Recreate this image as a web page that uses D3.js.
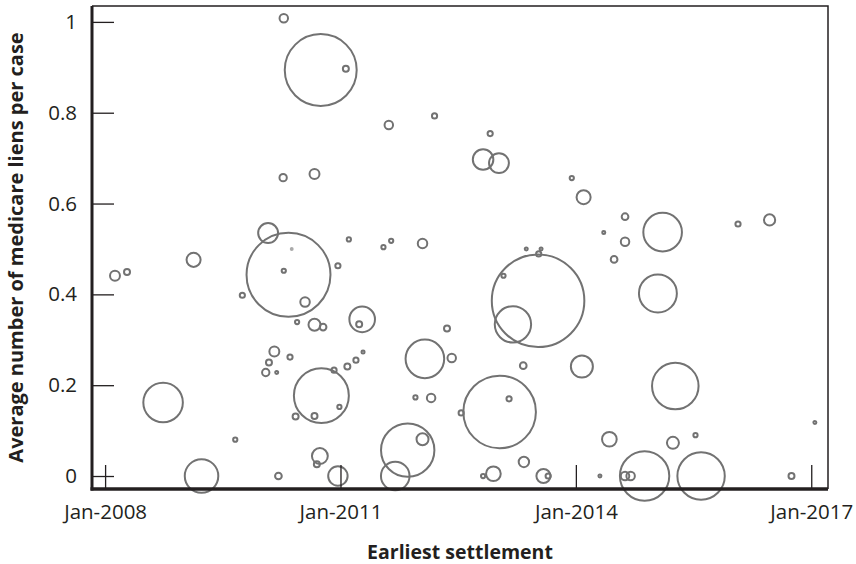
<!DOCTYPE html>
<html>
<head>
<meta charset="utf-8">
<script src="https://cdn.jsdelivr.net/npm/d3@7"></script>
<style>
    body { margin: 0; background: #fff; }
    .liensChart text { font-family: "Open Sans", sans-serif; fill: #231f20; }
</style>
</head>
<body>
<svg class="liensChart"></svg>
<script>
// earliest settlement date of each case group
const settled = [
    "2010-04-12", "2010-10-01", "2011-01-26", "2010-04-09", "2010-09-02", "2010-01-29", "2010-05-19", "2010-05-04",
    "2010-04-12", "2010-12-20", "2008-02-16", "2008-04-12", "2009-02-16", "2009-10-01", "2010-07-20", "2010-06-13",
    "2010-09-02", "2010-10-12", "2010-02-27", "2010-02-02", "2010-05-11", "2010-01-18", "2010-03-10", "2008-09-27",
    "2010-10-04", "2010-12-02", "2010-12-27", "2010-06-06", "2010-09-02", "2009-08-29", "2010-09-27", "2010-09-13",
    "2010-03-18", "2009-03-25", "2010-12-20", "2011-08-14", "2012-03-14", "2012-11-28", "2012-10-26", "2013-01-08",
    "2013-12-13", "2014-02-06", "2011-02-09", "2011-07-20", "2011-08-25", "2012-01-18", "2013-05-15", "2013-07-23",
    "2013-07-09", "2013-07-12", "2013-01-29", "2013-03-14", "2011-04-12", "2011-03-29", "2012-05-11", "2012-01-29",
    "2012-06-02", "2013-05-01", "2011-02-02", "2011-03-14", "2011-04-16", "2011-12-16", "2012-02-27", "2013-01-11",
    "2013-02-24", "2012-07-16", "2011-11-10", "2012-01-18", "2011-09-13", "2013-05-04", "2012-12-13", "2012-10-26",
    "2013-08-03", "2013-08-25", "2014-05-11", "2014-08-18", "2014-08-18", "2015-02-09", "2016-01-26", "2016-06-21",
    "2014-06-28", "2015-01-18", "2014-01-29", "2015-04-09", "2014-06-06", "2015-03-29", "2015-07-12", "2017-01-18",
    "2014-04-23", "2014-08-18", "2014-09-13", "2014-11-17", "2015-08-07", "2016-10-01"
];

// average number of medicare liens per case
const avgLiens = [
    1.008, 0.894, 0.897, 0.657, 0.665, 0.535, 0.500, 0.443,
    0.452, 0.463, 0.441, 0.449, 0.476, 0.398, 0.383, 0.339,
    0.333, 0.328, 0.274, 0.250, 0.262, 0.228, 0.228, 0.162,
    0.177, 0.233, 0.152, 0.131, 0.132, 0.080, 0.044, 0.026,
    0.000, 0.000, 0.000, 0.773, 0.793, 0.754, 0.697, 0.689,
    0.656, 0.614, 0.521, 0.504, 0.518, 0.512, 0.500, 0.500,
    0.386, 0.489, 0.441, 0.334, 0.345, 0.334, 0.325, 0.258,
    0.260, 0.243, 0.241, 0.255, 0.273, 0.173, 0.172, 0.141,
    0.170, 0.139, 0.057, 0.081, 0.000, 0.031, 0.005, 0.000,
    0.000, 0.000, 0.536, 0.571, 0.516, 0.537, 0.555, 0.564,
    0.477, 0.402, 0.241, 0.198, 0.081, 0.073, 0.090, 0.118,
    0.000, 0.000, 0.000, 0.000, 0.000, 0.000
];

// number of cases behind each bubble
const caseCounts = [
    8, 576, 4, 6, 11, 44, 0.4, 784,
    2, 3, 11, 4, 22, 3, 10, 2,
    16, 5, 11, 4, 3, 6, 1, 174,
    336, 3, 2, 4, 4, 2, 28, 4,
    5, 125, 42, 8, 3, 3, 47, 44,
    2, 22, 2, 2, 2, 10, 1, 1,
    953, 3, 2, 147, 73, 4, 4, 166,
    8, 5, 4, 3, 1, 2, 8, 586,
    3, 3, 317, 16, 91, 12, 24, 2,
    22, 3, 1, 5, 8, 166, 3, 14,
    5, 160, 54, 241, 24, 16, 2, 1,
    1, 8, 8, 271, 250, 4
];

const yTicks = [0, 0.2, 0.4, 0.6, 0.8, 1];
const xTicks = ["2008-01-01", "2011-01-01", "2014-01-01", "2017-01-01"];

function drawChart_liens() {
    const margin = {top: 6, right: 28, bottom: 75, left: 92},
        width = 856 - margin.left - margin.right,
        height = 564 - margin.top - margin.bottom;

    const parseDate = d3.timeParse("%Y-%m-%d");
    const data = settled.map((s, i) => ({date: parseDate(s), value: avgLiens[i], cases: caseCounts[i]}));

    const svg = d3.select(".liensChart")
        .attr("width", width + margin.left + margin.right)
        .attr("height", height + margin.top + margin.bottom)
        .append("g")
        .attr("transform", `translate(${margin.left},${margin.top})`);

    const x = d3.scaleTime()
        .domain([parseDate("2007-11-01"), parseDate("2017-03-20")])
        .range([0, width]);

    const y = d3.scaleLinear()
        .domain([-0.0286, 1.035])
        .range([height, 0]);

    const r = d3.scaleSqrt()
        .domain([0, 1000])
        .range([0, 47.4]);

    // bubbles
    svg.selectAll(".bubble")
        .data(data)
        .enter().append("circle")
        .attr("class", "bubble")
        .attr("cx", d => x(d.date))
        .attr("cy", d => y(d.value))
        .attr("r", d => r(d.cases))
        .style("fill", "none")
        .style("stroke", d => d.cases < 1 ? "#aaa" : "#727272")
        .style("stroke-width", 2);

    // frame
    svg.append("path")
        .attr("d", `M0,0H${width}V${height}`)
        .style("fill", "none")
        .style("stroke", "#231f20")
        .style("stroke-width", 1.5);

    // Y axis
    const yAxis = svg.append("g")
        .call(d3.axisLeft(y)
            .tickValues(yTicks)
            .tickFormat(d3.format("~g"))
            .tickSize(-22)
            .tickPadding(15));
    yAxis.select(".domain").remove();
    yAxis.selectAll(".tick line").style("stroke", "#231f20").style("stroke-width", 1.3);
    yAxis.selectAll(".tick text")
        .style("font-size", "20.5px")
        .style("font-weight", "500");

    // X axis
    const xAxis = svg.append("g")
        .attr("transform", `translate(0,${height})`)
        .call(d3.axisBottom(x)
            .tickValues(xTicks.map(parseDate))
            .tickFormat(d3.timeFormat("%b-%Y"))
            .tickSize(-24)
            .tickPadding(15));
    xAxis.select(".domain").remove();
    xAxis.selectAll(".tick line").style("stroke", "#231f20").style("stroke-width", 1.3);
    xAxis.selectAll(".tick text")
        .style("font-size", "20.5px")
        .style("font-weight", "500");

    svg.append("line")
        .attr("x1", 0).attr("x2", 0)
        .attr("y1", 0).attr("y2", height + 1.5)
        .style("stroke", "#231f20")
        .style("stroke-width", 3);

    svg.append("line")
        .attr("x1", -1.5).attr("x2", width)
        .attr("y1", height).attr("y2", height)
        .style("stroke", "#231f20")
        .style("stroke-width", 3.5);

    // axis titles
    svg.append("text")
        .attr("x", width / 2)
        .attr("y", height + 70)
        .attr("text-anchor", "middle")
        .style("font-size", "19.5px")
        .style("font-weight", "700")
        .text("Earliest settlement");

    svg.append("text")
        .attr("transform", "rotate(-90)")
        .attr("x", -height / 2)
        .attr("y", -69)
        .attr("text-anchor", "middle")
        .style("font-size", "20px")
        .style("font-weight", "700")
        .text("Average number of medicare liens per case");
}

drawChart_liens();
</script>
</body>
</html>
